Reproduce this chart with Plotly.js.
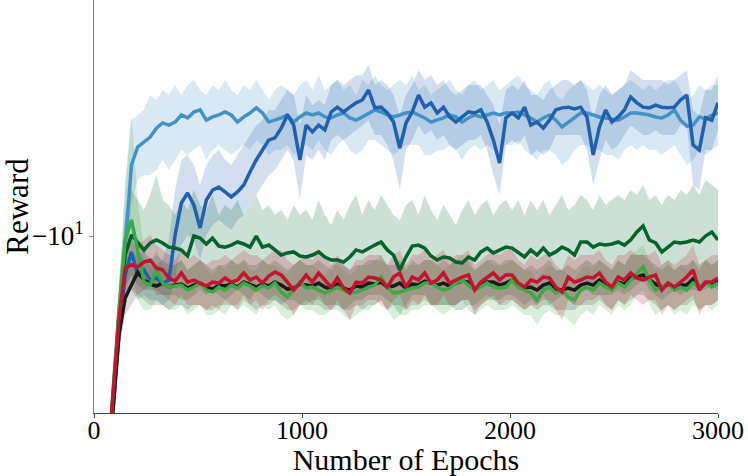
<!DOCTYPE html>
<html>
<head>
<meta charset="utf-8">
<script src="https://cdn.plot.ly/plotly-3.0.1.min.js"></script>
<style>html,body{margin:0;padding:0;background:#fff;}#chart{width:748px;height:476px;}</style>
</head>
<body>
<div id="chart"></div>
<script>
// x grid: training epochs, every 30 epochs from 0 to 3000
const epochs = [];
for (let e = 0; e <= 3000; e += 30) epochs.push(e);

// Rewards (negative); symlog-style axis shown as a reversed log axis of |reward|
const lightBlueMean = [-240,-130,-70.3,-36.6,-19.05,-10.31,-5.80,-5.05,-4.86,-4.68,
-4.37,-4.20,-4.27,-4.17,-3.95,-4.04,-3.86,-3.80,-4.11,-4.01,
-3.95,-3.86,-3.95,-4.17,-4.01,-3.89,-3.74,-3.89,-4.17,-4.11,
-4.04,-3.95,-4.17,-4.01,-3.89,-3.95,-3.89,-4.01,-4.04,-3.95,
-3.89,-4.04,-4.11,-4.01,-3.89,-3.80,-3.86,-3.95,-4.01,-3.95,
-3.89,-3.86,-3.95,-4.04,-4.17,-4.11,-4.04,-3.95,-4.01,-4.17,
-4.04,-3.95,-4.01,-3.95,-3.89,-3.95,-3.89,-3.89,-3.86,-3.95,
-4.04,-4.17,-4.04,-3.95,-4.11,-4.33,-4.17,-4.04,-3.89,-3.89,
-3.95,-4.01,-4.04,-4.07,-4.11,-4.01,-3.89,-3.89,-3.92,-3.95,
-4.01,-4.04,-3.95,-3.80,-4.11,-4.30,-4.27,-4.01,-4.07,-3.95,
-3.89];
const lightBlueUpper = [-220,-120,-64,-32.6,-15.14,-7.03,-4.11,-3.95,-3.80,-3.39,
-3.52,-3.26,-3.39,-3.14,-3.39,-3.14,-3.02,-3.26,-3.39,-3.14,
-3.26,-3.02,-3.26,-3.39,-3.14,-3.26,-3.02,-3.26,-3.52,-3.26,
-3.14,-3.26,-3.39,-3.14,-3.02,-3.26,-2.91,-3.26,-3.14,-3.02,
-3.26,-3.14,-3.39,-3.02,-3.14,-2.91,-3.14,-3.26,-3.14,-3.02,
-3.14,-2.91,-3.26,-3.14,-3.39,-3.26,-3.14,-3.02,-3.26,-3.39,
-3.14,-3.02,-3.26,-3.14,-3.02,-3.26,-3.14,-3.02,-2.91,-3.14,
-3.26,-3.39,-3.14,-3.02,-3.39,-3.52,-3.26,-3.14,-3.02,-3.14,
-3.26,-3.14,-3.26,-3.39,-3.26,-3.14,-3.02,-3.14,-3.26,-3.14,
-3.26,-3.14,-3.02,-3.02,-3.26,-3.52,-3.39,-3.14,-3.26,-3.14,
-3.14];
const lightBlueLower = [-260,-140,-77,-41.1,-23.09,-15.14,-7.88,-6.51,-6.26,-6.26,
-6.03,-5.58,-6.03,-5.58,-5.17,-5.37,-5.17,-4.97,-5.58,-5.17,
-4.97,-5.17,-5.37,-5.17,-4.97,-5.17,-4.79,-4.97,-5.37,-5.17,
-5.17,-4.97,-5.37,-5.17,-4.97,-5.17,-4.79,-5.17,-5.37,-4.97,
-4.79,-5.17,-5.37,-5.17,-4.79,-4.79,-4.97,-5.17,-5.37,-5.17,
-4.97,-4.97,-4.97,-5.37,-5.37,-5.17,-5.17,-4.97,-5.17,-5.58,
-5.17,-4.97,-5.17,-4.97,-5.17,-5.17,-4.97,-4.97,-4.79,-5.17,
-5.37,-5.58,-5.17,-5.17,-5.37,-5.80,-5.58,-5.17,-4.97,-4.97,
-5.17,-5.17,-5.37,-5.37,-5.58,-5.17,-4.97,-5.17,-4.97,-5.17,
-5.17,-5.37,-5.17,-4.97,-5.37,-5.80,-5.58,-5.17,-5.37,-5.17,
-4.97];

const darkBlueMean = [-240,-130,-75.9,-38.6,-21.38,-13.49,-11.30,-13.49,-12.98,-14.02,
-13.80,-14.35,-14.02,-9.92,-7.76,-7.19,-7.88,-9.40,-7.59,-7.03,
-6.87,-7.13,-7.41,-7.13,-6.76,-6.12,-5.58,-5.17,-4.79,-4.71,
-4.37,-3.95,-4.27,-5.58,-4.27,-4.50,-4.27,-4.43,-3.86,-3.72,
-3.86,-3.72,-3.60,-3.52,-3.26,-3.74,-3.72,-3.89,-4.17,-5.09,
-4.20,-3.86,-3.39,-3.72,-3.60,-3.89,-3.72,-4.01,-4.17,-4.01,
-3.86,-3.89,-3.80,-4.17,-4.79,-5.71,-4.04,-3.89,-4.04,-3.72,
-4.27,-4.17,-4.37,-4.11,-3.80,-3.74,-3.72,-3.77,-3.72,-4.01,
-5.37,-4.33,-3.80,-4.17,-4.01,-3.80,-3.44,-3.60,-3.72,-3.74,
-3.66,-3.72,-3.74,-3.72,-3.52,-3.39,-4.97,-5.17,-4.04,-4.11,
-3.60];
const darkBlueUpper = [-220,-120,-70,-33.9,-17.65,-11.57,-9.92,-11.57,-11.13,-12.02,
-11.57,-12.02,-10.31,-7.03,-5.58,-5.37,-5.80,-6.76,-5.80,-5.37,
-5.17,-5.58,-5.80,-5.37,-4.97,-4.61,-4.27,-4.11,-3.80,-3.80,
-3.52,-3.26,-3.39,-4.27,-3.39,-3.66,-3.52,-3.66,-3.14,-3.02,
-3.14,-3.02,-2.91,-2.91,-2.69,-3.14,-3.02,-3.14,-3.39,-3.95,
-3.39,-3.14,-2.80,-3.02,-2.91,-3.14,-3.02,-3.26,-3.39,-3.26,
-3.14,-3.14,-3.14,-3.39,-3.66,-4.27,-3.26,-3.14,-3.26,-3.02,
-3.39,-3.39,-3.52,-3.26,-3.14,-3.02,-3.02,-3.14,-3.02,-3.26,
-4.11,-3.39,-3.14,-3.39,-3.26,-3.14,-2.80,-2.91,-3.02,-3.02,
-3.02,-3.02,-3.14,-3.02,-2.91,-2.80,-3.80,-3.95,-3.26,-3.26,
-2.91];
const darkBlueLower = [-260,-140,-82,-41.1,-24.0,-15.73,-13.49,-16.34,-15.73,-16.34,
-16.34,-16.98,-16.34,-14.02,-10.72,-9.92,-10.31,-12.02,-9.92,-9.19,
-8.84,-9.19,-9.55,-8.84,-8.51,-7.88,-7.30,-6.76,-6.26,-6.03,
-5.58,-5.17,-5.58,-7.59,-5.37,-5.58,-5.17,-5.58,-4.79,-4.61,
-4.79,-4.61,-4.43,-4.27,-4.11,-4.61,-4.61,-4.97,-5.58,-7.03,
-5.17,-4.79,-4.27,-4.61,-4.43,-4.79,-4.61,-4.97,-5.17,-4.97,
-4.79,-4.79,-4.61,-5.17,-6.26,-7.30,-4.97,-4.79,-4.97,-4.61,
-5.37,-5.17,-5.37,-5.17,-4.61,-4.61,-4.61,-4.61,-4.61,-5.17,
-6.76,-5.58,-4.79,-5.17,-4.97,-4.61,-4.27,-4.43,-4.61,-4.61,
-4.43,-4.61,-4.61,-4.61,-4.27,-4.27,-6.76,-7.03,-5.17,-5.17,
-4.43];

const darkGreenMean = [-240,-130,-70.3,-35.2,-18.34,-11.57,-9.92,-10.47,-11.13,-10.55,
-10.31,-10.55,-10.89,-10.97,-11.13,-11.66,-10.00,-10.16,-10.63,-10.16,
-10.80,-10.89,-10.72,-10.47,-10.63,-10.89,-10.00,-10.89,-10.72,-11.13,
-11.57,-11.39,-11.30,-11.66,-11.75,-11.57,-11.30,-11.75,-12.02,-12.02,
-12.21,-11.75,-11.13,-11.30,-10.97,-10.72,-10.47,-11.13,-11.57,-12.98,
-11.75,-10.80,-10.72,-10.97,-11.66,-12.02,-11.75,-11.84,-12.21,-12.30,
-11.75,-12.02,-11.30,-10.97,-11.39,-11.13,-10.89,-10.97,-11.39,-11.75,
-11.13,-11.57,-10.97,-11.57,-11.30,-10.89,-11.13,-11.57,-10.47,-10.47,
-10.89,-10.63,-10.72,-10.63,-10.47,-10.72,-10.31,-9.70,-9.26,-10.31,
-10.55,-11.30,-10.89,-10.47,-10.55,-10.47,-10.31,-10.47,-10.00,-9.70,
-10.31];
const darkGreenUpper = [-220,-120,-64,-31.4,-14.02,-8.51,-7.03,-7.59,-8.19,-7.30,
-6.26,-7.59,-7.88,-8.51,-7.59,-8.19,-7.03,-7.88,-8.19,-7.30,
-8.51,-7.88,-8.19,-7.59,-8.51,-7.88,-7.30,-8.19,-7.88,-8.51,
-8.19,-8.84,-7.88,-8.51,-8.19,-8.84,-7.59,-8.51,-9.19,-8.19,
-8.84,-7.88,-7.30,-8.51,-7.59,-8.19,-7.30,-7.88,-8.51,-8.84,
-7.88,-7.59,-8.51,-7.30,-8.19,-8.84,-7.88,-8.51,-9.19,-8.19,
-7.59,-8.51,-7.88,-7.59,-8.51,-7.88,-7.59,-8.19,-7.59,-8.51,
-7.59,-8.19,-7.59,-8.51,-7.88,-7.30,-8.19,-7.88,-7.30,-7.59,
-8.19,-7.30,-7.88,-7.59,-7.30,-7.59,-7.03,-7.30,-6.76,-7.59,
-7.30,-7.88,-7.30,-7.59,-7.03,-7.30,-6.76,-7.30,-6.51,-6.76,
-7.03];
const darkGreenLower = [-260,-140,-77,-39.5,-21.38,-14.57,-13.49,-14.57,-15.14,-15.14,
-15.14,-15.73,-15.73,-15.73,-16.34,-16.34,-15.73,-15.14,-15.73,-15.14,
-15.73,-16.34,-15.73,-15.14,-15.73,-16.34,-15.14,-15.73,-16.34,-16.34,
-16.98,-16.34,-16.34,-16.98,-16.98,-16.34,-16.34,-16.98,-16.98,-16.98,
-17.65,-16.98,-16.34,-16.34,-15.73,-15.73,-15.73,-16.34,-16.98,-18.34,
-16.98,-15.73,-15.73,-15.73,-16.98,-16.98,-16.98,-16.98,-17.65,-17.65,
-16.98,-16.98,-16.34,-15.73,-16.34,-16.34,-15.73,-15.73,-16.34,-16.98,
-16.34,-16.98,-15.73,-16.98,-16.34,-15.73,-16.34,-16.98,-15.14,-15.14,
-15.73,-15.73,-15.73,-15.73,-15.14,-15.73,-15.14,-14.57,-14.02,-15.14,
-15.73,-16.34,-15.73,-15.14,-15.73,-15.14,-15.14,-15.14,-15.14,-14.57,
-15.14];

const greenMean = [-240,-130,-70.3,-33.9,-17.65,-10.31,-8.84,-11.13,-14.24,-14.57,
-12.98,-14.35,-14.80,-14.68,-14.57,-15.14,-14.80,-14.35,-15.14,-15.37,
-14.80,-15.14,-14.57,-14.91,-14.35,-14.68,-15.14,-14.57,-14.91,-14.35,
-15.37,-15.97,-15.14,-14.24,-14.91,-14.80,-15.14,-15.49,-15.14,-14.80,
-15.14,-15.49,-15.37,-15.14,-14.80,-14.57,-13.70,-14.80,-15.49,-15.37,
-15.14,-14.91,-14.80,-14.35,-14.24,-14.80,-15.14,-14.91,-14.35,-14.02,
-14.57,-15.14,-14.80,-14.35,-14.80,-14.91,-14.80,-14.02,-14.80,-15.14,
-15.49,-16.34,-15.14,-14.80,-15.49,-15.14,-15.97,-16.34,-15.14,-14.80,
-15.14,-14.35,-14.80,-15.14,-14.35,-14.80,-14.02,-13.28,-12.68,-14.02,
-15.14,-14.80,-14.35,-15.14,-14.80,-15.14,-14.35,-14.80,-14.24,-14.80,
-14.35];
const greenUpper = [-220,-120,-64,-30.2,-15.14,-6.51,-3.95,-7.59,-11.13,-12.49,
-11.13,-12.49,-12.98,-12.49,-12.02,-12.98,-12.49,-12.02,-12.98,-13.49,
-12.49,-12.98,-12.02,-12.49,-12.02,-12.98,-12.98,-12.02,-12.49,-12.49,
-12.98,-13.49,-12.49,-12.02,-12.49,-12.49,-12.98,-13.49,-12.49,-12.49,
-12.98,-13.49,-12.98,-12.49,-12.49,-12.02,-11.57,-12.49,-13.49,-12.98,
-12.49,-12.49,-12.49,-12.02,-12.02,-12.49,-12.98,-12.49,-12.02,-11.57,
-12.49,-12.98,-12.49,-12.02,-12.49,-12.49,-12.49,-12.02,-12.49,-12.98,
-12.98,-14.02,-12.98,-12.49,-12.98,-12.98,-13.49,-14.02,-12.98,-12.49,
-12.98,-12.02,-12.49,-12.98,-12.02,-12.49,-11.57,-11.13,-10.72,-12.02,
-12.98,-12.49,-12.02,-12.98,-12.49,-12.98,-12.02,-12.49,-12.02,-12.49,
-12.02];
const greenLower = [-260,-140,-77,-38.0,-20.58,-16.34,-15.14,-16.34,-17.65,-17.65,
-16.34,-16.98,-17.65,-17.65,-16.98,-18.34,-17.65,-16.98,-18.34,-18.34,
-17.65,-18.34,-16.98,-17.65,-16.98,-17.65,-18.34,-16.98,-17.65,-16.98,
-18.34,-19.05,-18.34,-16.98,-17.65,-17.65,-18.34,-18.34,-17.65,-17.65,
-18.34,-19.05,-18.34,-17.65,-17.65,-16.98,-16.34,-17.65,-19.05,-18.34,
-18.34,-17.65,-17.65,-16.98,-16.98,-17.65,-18.34,-17.65,-16.98,-16.34,
-17.65,-18.34,-17.65,-16.98,-17.65,-17.65,-17.65,-16.98,-17.65,-18.34,
-18.34,-19.80,-18.34,-17.65,-18.34,-18.34,-19.05,-19.80,-18.34,-17.65,
-18.34,-16.98,-17.65,-18.34,-16.98,-17.65,-16.98,-15.73,-15.14,-16.98,
-18.34,-17.65,-16.98,-18.34,-17.65,-18.34,-16.98,-17.65,-16.98,-17.65,
-16.98];

const redMean = [-240,-130,-67.6,-34.7,-19.05,-12.78,-12.49,-12.68,-12.21,-12.02,
-12.78,-12.98,-13.80,-14.13,-13.28,-14.24,-14.02,-14.35,-14.68,-14.24,
-14.35,-13.80,-14.24,-14.02,-13.28,-14.02,-13.70,-14.35,-13.59,-13.18,
-13.49,-14.24,-15.14,-14.35,-13.49,-14.24,-13.28,-14.02,-14.80,-13.80,
-14.91,-15.49,-14.24,-14.35,-13.70,-13.80,-14.02,-14.80,-13.70,-13.28,
-14.80,-13.70,-14.02,-13.28,-14.35,-14.02,-13.28,-14.35,-14.02,-13.70,
-13.49,-15.14,-14.24,-13.70,-13.28,-14.02,-13.49,-13.49,-14.35,-14.80,
-14.02,-14.24,-13.70,-13.80,-14.80,-15.37,-13.70,-14.24,-14.02,-13.70,
-13.80,-13.28,-14.24,-14.80,-13.70,-14.02,-13.28,-13.80,-14.02,-13.70,
-13.49,-15.14,-14.35,-14.80,-14.24,-13.70,-12.98,-15.14,-14.24,-14.24,
-13.80];
const redUpper = [-220,-120,-62,-31.4,-16.34,-10.72,-10.31,-10.72,-10.31,-9.92,
-10.72,-11.13,-11.57,-12.02,-11.13,-12.02,-11.57,-12.02,-12.49,-12.02,
-12.02,-11.57,-12.02,-11.57,-11.13,-11.57,-11.57,-12.02,-11.57,-11.13,
-11.13,-12.02,-12.49,-12.02,-11.57,-12.02,-11.13,-11.57,-12.49,-11.57,
-12.49,-12.98,-12.02,-12.02,-11.57,-11.57,-11.57,-12.49,-11.57,-11.13,
-12.49,-11.57,-11.57,-11.13,-12.02,-11.57,-11.13,-12.02,-11.57,-11.57,
-11.13,-12.49,-12.02,-11.57,-11.13,-11.57,-11.13,-11.13,-12.02,-12.49,
-11.57,-12.02,-11.57,-11.57,-12.49,-12.98,-11.57,-12.02,-11.57,-11.57,
-11.57,-11.13,-12.02,-12.49,-11.57,-11.57,-11.13,-11.57,-11.57,-11.57,
-11.13,-12.49,-12.02,-12.49,-12.02,-11.57,-10.72,-12.49,-12.02,-11.57,
-11.57];
const redLower = [-260,-140,-74,-38.0,-22.22,-15.14,-15.14,-15.73,-15.14,-14.57,
-15.73,-15.73,-16.34,-16.98,-15.73,-16.98,-16.98,-16.98,-17.65,-16.98,
-17.65,-16.34,-16.98,-16.98,-15.73,-16.98,-16.34,-17.65,-16.34,-15.73,
-16.34,-16.98,-18.34,-16.98,-16.34,-16.98,-15.73,-16.98,-17.65,-16.34,
-17.65,-19.05,-16.98,-16.98,-16.34,-16.34,-16.98,-17.65,-16.34,-15.73,
-17.65,-16.34,-16.98,-15.73,-16.98,-16.98,-15.73,-16.98,-16.98,-16.34,
-16.34,-18.34,-16.98,-16.34,-15.73,-16.98,-16.34,-16.34,-16.98,-17.65,
-16.98,-16.98,-16.34,-16.34,-17.65,-19.05,-16.34,-16.98,-16.98,-16.34,
-16.34,-15.73,-16.98,-17.65,-16.34,-16.98,-15.73,-16.34,-16.98,-16.34,
-16.34,-18.34,-16.98,-17.65,-16.98,-16.34,-15.73,-18.34,-16.98,-16.98,
-16.34];

const blackMean = [-240,-130,-75.9,-38.0,-21.38,-16.10,-14.57,-13.18,-14.02,-14.46,
-14.68,-14.35,-14.80,-14.57,-14.46,-14.91,-14.57,-14.35,-14.80,-15.03,
-14.57,-14.68,-14.46,-14.80,-14.24,-14.57,-14.80,-14.46,-14.68,-14.24,
-14.57,-15.03,-14.91,-14.46,-14.57,-14.68,-14.35,-14.80,-15.03,-14.46,
-14.91,-15.14,-14.68,-14.80,-14.35,-14.46,-14.24,-14.80,-14.68,-14.35,
-14.91,-14.46,-14.57,-14.13,-14.35,-14.57,-14.35,-14.68,-14.35,-14.13,
-14.24,-15.03,-14.57,-14.24,-14.24,-14.57,-14.35,-14.02,-14.57,-14.91,
-14.80,-15.14,-14.57,-14.35,-15.03,-15.14,-14.91,-15.14,-14.57,-14.35,
-14.57,-14.02,-14.57,-14.91,-14.24,-14.46,-13.80,-13.70,-13.49,-14.02,
-14.46,-14.91,-14.46,-14.91,-14.57,-14.57,-13.91,-14.91,-14.35,-14.46,
-14.13];
const blackUpper = [-220,-120,-70,-33.9,-18.34,-13.49,-12.49,-11.13,-12.02,-12.49,
-12.49,-12.02,-12.49,-12.49,-12.02,-12.98,-12.49,-12.02,-12.49,-12.98,
-12.49,-12.49,-12.02,-12.49,-12.02,-12.49,-12.49,-12.02,-12.49,-12.02,
-12.49,-12.98,-12.49,-12.02,-12.49,-12.49,-12.02,-12.49,-12.98,-12.02,
-12.49,-12.98,-12.49,-12.49,-12.02,-12.02,-12.02,-12.49,-12.49,-12.02,
-12.98,-12.02,-12.49,-12.02,-12.02,-12.49,-12.02,-12.49,-12.02,-12.02,
-12.02,-12.98,-12.49,-12.02,-12.02,-12.49,-12.02,-12.02,-12.49,-12.98,
-12.49,-12.98,-12.49,-12.02,-12.98,-12.98,-12.49,-12.98,-12.49,-12.02,
-12.49,-12.02,-12.49,-12.98,-12.02,-12.49,-11.57,-11.57,-11.57,-12.02,
-12.49,-12.98,-12.49,-12.98,-12.49,-12.49,-12.02,-12.98,-12.02,-12.49,
-12.02];
const blackLower = [-260,-140,-82,-42.7,-24.0,-18.34,-16.98,-15.73,-16.34,-16.98,
-16.98,-16.98,-17.65,-16.98,-16.98,-17.65,-16.98,-16.98,-17.65,-17.65,
-16.98,-16.98,-16.98,-17.65,-16.34,-16.98,-17.65,-16.98,-16.98,-16.34,
-16.98,-17.65,-17.65,-16.98,-16.98,-16.98,-16.98,-17.65,-17.65,-16.98,
-17.65,-17.65,-16.98,-17.65,-16.98,-16.98,-16.34,-17.65,-16.98,-16.98,
-17.65,-16.98,-16.98,-16.34,-16.98,-16.98,-16.98,-16.98,-16.98,-16.34,
-16.34,-17.65,-16.98,-16.34,-16.34,-16.98,-16.98,-16.34,-16.98,-17.65,
-16.98,-17.65,-16.98,-16.98,-17.65,-17.65,-17.65,-17.65,-16.98,-16.98,
-16.98,-16.34,-16.98,-17.65,-16.34,-16.98,-16.34,-15.73,-15.73,-16.34,
-16.98,-17.65,-16.98,-17.65,-16.98,-16.98,-16.34,-17.65,-16.98,-16.98,
-16.34];

const xTickVals = [0, 1000, 2000, 3000];
const yTickVals = [-10];
const yTickText = ['\u221210<sup>1</sup>'];

// style
const C = {
  lightBlue: ['#4292c6', 'rgba(66,146,198,0.2)'],
  darkBlue:  ['#2060ac', 'rgba(33,96,172,0.2)'],
  darkGreen: ['#00632c', 'rgba(0,99,44,0.2)'],
  green:     ['#3aaa48', 'rgba(58,170,72,0.2)'],
  red:       ['#c4122f', 'rgba(196,18,47,0.2)'],
  black:     ['#1a1a1a', 'rgba(0,0,0,0.15)']
};

// symlog (negative) axis drawn as a reversed log axis of |reward|
const toAxis = arr => arr.map(v => -v);

function band(up, lo, fill) {
  return {
    x: epochs.concat(epochs.slice().reverse()),
    y: toAxis(up).concat(toAxis(lo).reverse()),
    mode: 'lines', fill: 'toself', fillcolor: fill,
    line: {width: 0}, hoverinfo: 'skip', showlegend: false
  };
}
function line(m, color) {
  return {x: epochs, y: toAxis(m), mode: 'lines',
    line: {color: color, width: 3.5}, hoverinfo: 'skip', showlegend: false};
}

const data = [
  band(lightBlueUpper, lightBlueLower, C.lightBlue[1]),
  band(darkBlueUpper, darkBlueLower, C.darkBlue[1]),
  band(darkGreenUpper, darkGreenLower, C.darkGreen[1]),
  band(blackUpper, blackLower, C.black[1]),
  band(greenUpper, greenLower, C.green[1]),
  band(redUpper, redLower, C.red[1]),
  line(lightBlueMean, C.lightBlue[0]),
  line(darkBlueMean, C.darkBlue[0]),
  line(darkGreenMean, C.darkGreen[0]),
  line(blackMean, C.black[0]),
  line(greenMean, C.green[0]),
  line(redMean, C.red[0])
];

const font = 'Liberation Serif, "Times New Roman", Times, serif';
const layout = {
  width: 748, height: 476,
  margin: {l: 94, r: 30, t: 0, b: 63, pad: 0},
  paper_bgcolor: '#fff', plot_bgcolor: '#fff',
  showlegend: false,
  font: {family: font, size: 27, color: '#000'},
  xaxis: {
    range: [0, 3000], tickvals: xTickVals, ticktext: xTickVals.map(String),
    showgrid: false, zeroline: false, showline: true,
    linecolor: '#444', linewidth: 1, ticks: 'outside', ticklen: 4, tickcolor: '#444',
    ticklabelstandoff: -10,
    tickfont: {family: font, size: 26, color: '#000'},
    title: {text: 'Number of Epochs', font: {family: font, size: 30, color: '#000'}, standoff: 0},
    automargin: false
  },
  yaxis: {
    type: 'log',
    range: [Math.log10(38.9), Math.log10(1.6344)],
    tickvals: yTickVals.map(v => -v), ticktext: yTickText,
    showgrid: false, zeroline: false, showline: true,
    linecolor: '#888', linewidth: 1, ticks: 'outside', ticklen: 4, tickcolor: '#888',
    tickfont: {family: font, size: 27, color: '#000'},
    title: {text: 'Reward', font: {family: font, size: 31, color: '#000'}, standoff: 10},
    automargin: false
  }
};

Plotly.newPlot('chart', data, layout, {staticPlot: true, displayModeBar: false});
</script>
</body>
</html>
